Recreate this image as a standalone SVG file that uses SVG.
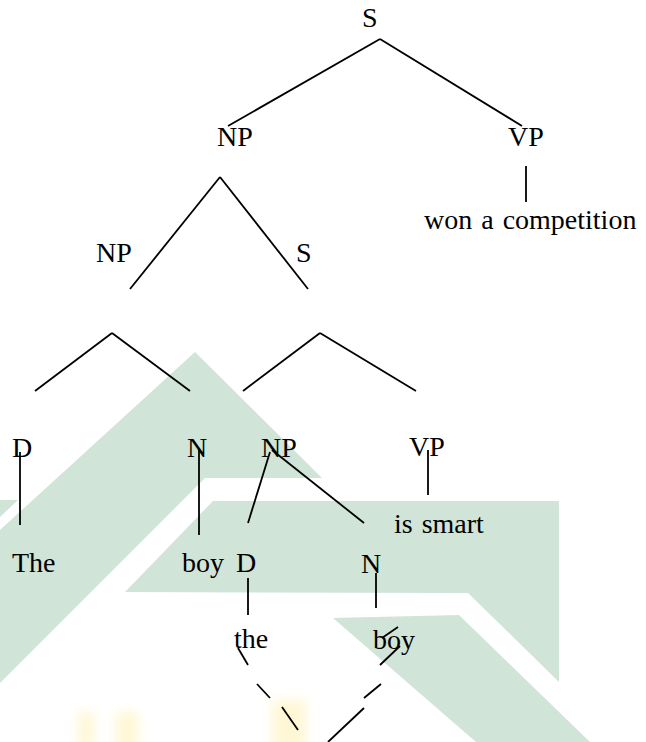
<svg xmlns="http://www.w3.org/2000/svg" width="646" height="742" viewBox="0 0 646 742">
<defs>
<filter id="soft" x="-50%" y="-50%" width="200%" height="200%"><feGaussianBlur stdDeviation="6"/></filter>
</defs>
<style>
text{font-family:"Liberation Serif","Times New Roman",serif;font-size:28px;fill:#000;word-spacing:2px}
.c line{stroke:#000;stroke-width:1.8;stroke-linecap:butt}
.wm{fill:#d0e4d8}
.wy{fill:#fff0b0;opacity:0.55}
</style>
<rect width="646" height="742" fill="#fff"/>
<g id="watermark">
<polygon class="wm" points="195,352 322,478 205,478 0,683 0,530"/>
<polygon class="wm" points="0,500 18,500 0,517"/>
<polygon class="wm" points="213,501 559,501 559,682 468,593 125,592"/>
<polygon class="wm" points="333,618 459,615 590,742 476,742"/>
<g filter="url(#soft)">
<rect class="wy" x="78" y="712" width="16" height="40"/>
<rect class="wy" x="116" y="712" width="22" height="40"/>
<rect class="wy" x="272" y="700" width="34" height="50"/>
</g>
</g>
<g id="n-S-top"><text x="362" y="27">S</text></g>
<g id="n-NP-1"><text x="217" y="146">NP</text></g>
<g id="n-VP-1"><text x="508" y="146">VP</text></g>
<g id="n-won"><text x="424" y="229">won a competition</text></g>
<g id="n-NP-2"><text x="96" y="262">NP</text></g>
<g id="n-S-2"><text x="296" y="262">S</text></g>
<g id="n-D-1"><text x="12" y="457">D</text></g>
<g id="n-N-1"><text x="187" y="457">N</text></g>
<g id="n-NP-3"><text x="261" y="457">NP</text></g>
<g id="n-VP-2"><text x="409" y="456">VP</text></g>
<g id="n-is-smart"><text x="394" y="533">is smart</text></g>
<g id="n-The"><text x="12" y="572">The</text></g>
<g id="n-boy-1"><text x="182" y="572">boy</text></g>
<g id="n-D-2"><text x="236" y="572">D</text></g>
<g id="n-N-2"><text x="361" y="573">N</text></g>
<g id="n-the"><text x="234" y="648">the</text></g>
<g id="n-boy-2"><text x="373" y="649">boy</text></g>
<g id="connectors" class="c">
<line x1="380" y1="39" x2="228" y2="126"/>
<line x1="380" y1="39" x2="522" y2="126"/>
<line x1="526" y1="166" x2="526" y2="202"/>
<line x1="220" y1="177" x2="130" y2="289"/>
<line x1="220" y1="177" x2="308" y2="289"/>
<line x1="112" y1="333" x2="35" y2="391"/>
<line x1="112" y1="333" x2="190" y2="391"/>
<line x1="320" y1="333" x2="243" y2="391"/>
<line x1="320" y1="333" x2="416" y2="391"/>
<line x1="20" y1="452" x2="20" y2="525"/>
<line x1="199" y1="448" x2="199" y2="535"/>
<line x1="270" y1="452" x2="248" y2="523"/>
<line x1="272" y1="450" x2="364" y2="523"/>
<line x1="428" y1="450" x2="428" y2="495"/>
<line x1="248" y1="578" x2="248" y2="615"/>
<line x1="376" y1="573" x2="376" y2="608"/>
<line x1="382" y1="638" x2="398" y2="627"/>
<line x1="238" y1="648" x2="248" y2="665"/>
<line x1="257" y1="684" x2="270" y2="698"/>
<line x1="282" y1="707" x2="298" y2="730"/>
<line x1="400" y1="646" x2="380" y2="665"/>
<line x1="381" y1="684" x2="364" y2="698"/>
<line x1="364" y1="708" x2="328" y2="742"/>
</g>
</svg>
